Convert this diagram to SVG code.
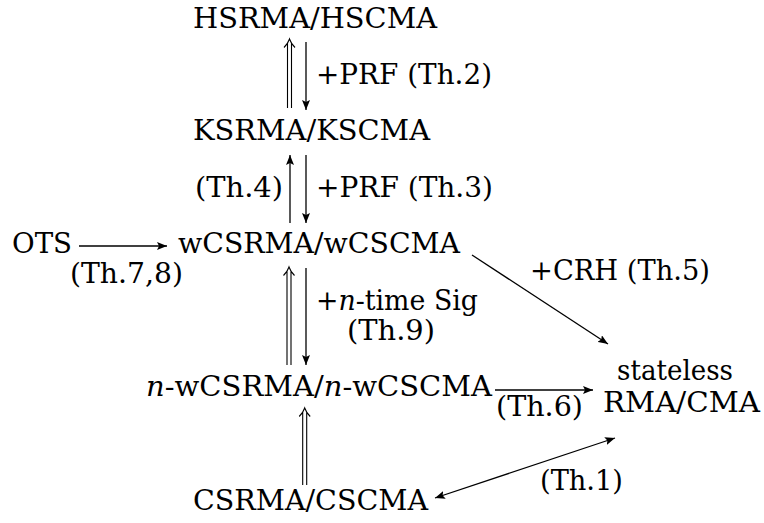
<svg xmlns="http://www.w3.org/2000/svg" width="764" height="523" viewBox="0 0 764 523">
<style>
text{font-family:"DejaVu Serif","Liberation Serif",serif;font-size:27px;fill:#000}
.c{stroke:#000;stroke-width:1.3;fill:none}
.d{stroke:#000;stroke-width:1.1;fill:none}
.i{font-style:italic}
</style>
<defs>
<marker id="ah" viewBox="0 0 10 8" refX="10" refY="4" markerWidth="10" markerHeight="8" markerUnits="userSpaceOnUse" orient="auto-start-reverse">
<path d="M0,0 L10,4 L0,8 L2,4 Z" fill="#000"/>
</marker>
</defs>
<rect width="764" height="523" fill="#fff"/>
<g id="connectors">
<path class="d" d="M287.5,43 V108 M291.5,43 V108 M284,47.5 Q288,43.5 289.5,39 Q291,43.5 295,47.5"/>
<line class="c" x1="306" y1="42" x2="306" y2="110" marker-end="url(#ah)"/>
<line class="c" x1="290" y1="223" x2="290" y2="155" marker-end="url(#ah)"/>
<line class="c" x1="306" y1="155" x2="306" y2="223" marker-end="url(#ah)"/>
<line class="c" x1="79" y1="246" x2="167" y2="246" marker-end="url(#ah)"/>
<path class="d" d="M287,271 V365 M291,271 V365 M283.5,275.5 Q287.5,271.5 289,267 Q290.5,271.5 294.5,275.5"/>
<line class="c" x1="306" y1="268" x2="306" y2="365" marker-end="url(#ah)"/>
<line class="c" x1="472" y1="255" x2="608" y2="344" marker-end="url(#ah)"/>
<line class="c" x1="495" y1="390" x2="593" y2="390" marker-end="url(#ah)"/>
<path class="d" d="M302.7,412 V485 M306.7,412 V485 M299.2,416.5 Q303.2,412.5 304.7,408 Q306.2,412.5 310.2,416.5"/>
<line class="c" x1="435" y1="498" x2="615" y2="438" marker-start="url(#ah)" marker-end="url(#ah)"/>
<g id="labels">
<text x="316" y="84" textLength="176" lengthAdjust="spacingAndGlyphs">+PRF (Th.2)</text>
<text x="195" y="197" textLength="88" lengthAdjust="spacingAndGlyphs">(Th.4)</text>
<text x="316" y="197" textLength="177" lengthAdjust="spacingAndGlyphs">+PRF (Th.3)</text>
<text x="70" y="283" textLength="113" lengthAdjust="spacingAndGlyphs">(Th.7,8)</text>
<text x="530" y="280" textLength="180" lengthAdjust="spacingAndGlyphs">+CRH (Th.5)</text>
<text x="316" y="310" textLength="162" lengthAdjust="spacingAndGlyphs">+<tspan class="i">n</tspan>-time Sig</text>
<text x="347" y="340" textLength="88" lengthAdjust="spacingAndGlyphs">(Th.9)</text>
<text x="496" y="416" textLength="87" lengthAdjust="spacingAndGlyphs">(Th.6)</text>
<text x="540" y="490" textLength="83" lengthAdjust="spacingAndGlyphs">(Th.1)</text>
</g>
</g>
<g id="hsrma"><text x="193" y="28" textLength="244" lengthAdjust="spacingAndGlyphs">HSRMA/HSCMA</text></g>
<g id="ksrma"><text x="193" y="140" textLength="237" lengthAdjust="spacingAndGlyphs">KSRMA/KSCMA</text></g>
<g id="ots"><text x="12" y="253" textLength="60" lengthAdjust="spacingAndGlyphs">OTS</text></g>
<g id="wcsrma"><text x="178" y="253" textLength="282" lengthAdjust="spacingAndGlyphs">wCSRMA/wCSCMA</text></g>
<g id="nwcsrma"><text x="146" y="396" textLength="346" lengthAdjust="spacingAndGlyphs"><tspan class="i">n</tspan>-wCSRMA/<tspan class="i">n</tspan>-wCSCMA</text></g>
<g id="stateless"><text x="617" y="380" textLength="116" lengthAdjust="spacingAndGlyphs">stateless</text><text x="603" y="412" textLength="157" lengthAdjust="spacingAndGlyphs">RMA/CMA</text></g>
<g id="csrma"><text x="193" y="510" textLength="235" lengthAdjust="spacingAndGlyphs">CSRMA/CSCMA</text></g>
</svg>
